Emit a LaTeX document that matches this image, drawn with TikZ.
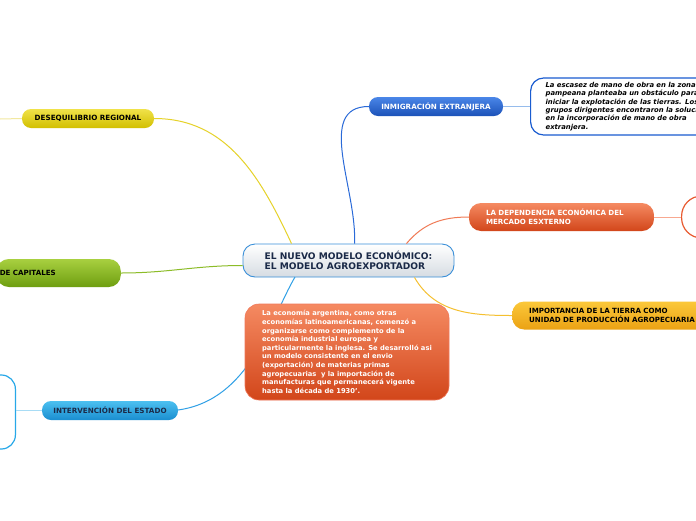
\documentclass[tikz,border=0pt]{standalone}
\usepackage{fontspec}
\setmainfont{DejaVu Sans}
\usepackage{tikz}
\usetikzlibrary{positioning,shadings}

\definecolor{mainedge}{HTML}{3A8FD8}
\definecolor{maingray}{HTML}{D6DCE2}
\definecolor{maintext}{HTML}{1B2A48}
\definecolor{inmtop}{HTML}{4A86E8}
\definecolor{inmbot}{HTML}{1C52B8}
\definecolor{deptop}{HTML}{F58A62}
\definecolor{depbot}{HTML}{D2461A}
\definecolor{imptop}{HTML}{FBC83A}
\definecolor{impbot}{HTML}{EBA214}
\definecolor{destop}{HTML}{F0E24A}
\definecolor{desbot}{HTML}{D2BF00}
\definecolor{captop}{HTML}{A8D040}
\definecolor{capbot}{HTML}{6E9E10}
\definecolor{inttop}{HTML}{4CC0F0}
\definecolor{intbot}{HTML}{1A8ED0}

\begin{document}
\begin{tikzpicture}[x=1pt, y=1pt,
  mainN/.style={draw=mainedge, line width=0.9pt, rounded corners=12pt,
                top color=white, bottom color=maingray, minimum width=211pt,
                minimum height=33pt, align=left, text=maintext,
                font=\fontsize{9.1}{10.5}\selectfont\bfseries},
  pillN/.style={rounded corners=9pt, minimum height=19pt, inner sep=0pt,
                font=\fontsize{7.2}{9}\selectfont\bfseries},
  wideN/.style={rounded corners=12pt, minimum height=28pt, inner xsep=17pt,
                align=left, font=\fontsize{7.1}{9}\selectfont\bfseries},
  noteN/.style={draw, line width=1.2pt, fill=white, rounded corners=13pt},
  link/.style={line width=1pt}
]
\useasboundingbox (0,0) rectangle (696,-520);
\clip (0,0) rectangle (696,-520);
\fill[white] (0,0) rectangle (696,-520);
% Free ends at the left border
\coordinate (deseqend) at (0,-119);
% Main topic and its text
\node[mainN] (central) at (348.5,-260.5) {EL NUEVO MODELO ECONÓMICO:\\EL MODELO AGROEXPORTADOR};
% Connector behind the text box
\draw[link, draw={rgb,255:red,48;green,160;blue,230}] (295,-277) .. controls (270,-320) and (250,-400) .. (178,-410);
\node[draw={rgb,255:red,240;green,120;blue,90}, line width=0.6pt, rounded corners=14pt,
      top color=deptop, bottom color=depbot, minimum width=204pt, minimum height=96pt,
      align=left, text=white, font=\fontsize{6.75}{8.6}\selectfont\bfseries]
  (economia) at (347,-352) {La economía argentina, como otras\\economías latinoamericanas, comenzó a\\organizarse como complemento de la\\economía industrial europea y\\particularmente la inglesa. Se desarrolló asi\\un modelo consistente en el envio\\(exportación) de materias primas\\agropecuarias \ y la importación de\\manufacturas que permanecerá vigente\\hasta la década de 1930’.};
% Branches
\node[pillN, top color=inmtop, bottom color=inmbot, text=white, minimum width=134pt]
  (inmig) at (436,-106.5) {INMIGRACIÓN EXTRANJERA};
\node[noteN, draw={rgb,255:red,26;green,92;blue,208}, anchor=west, minimum height=57pt,
      text width=240pt, inner xsep=15pt, align=left,
      font=\fontsize{6.85}{8.4}\selectfont\bfseries\itshape]
  (inmnote) at (530,-106.5) {La escasez de mano de obra en la zona\\pampeana planteaba un obstáculo para\\iniciar la explotación de las tierras. Los\\grupos dirigentes encontraron la solución\\en la incorporación de mano de obra\\extranjera.};
\node[wideN, top color=deptop, bottom color=depbot, text=white, text width=151pt]
  (depend) at (561.5,-217) {LA DEPENDENCIA ECONÓMICA DEL\\MERCADO ESXTERNO};
\node[noteN, draw={rgb,255:red,232;green,90;blue,48}, anchor=west, rounded corners=20pt,
      minimum width=80pt, minimum height=42pt] (depnote) at (681,-217) {};
\node[wideN, top color=imptop, bottom color=impbot, text=black, anchor=west,
      text width=200pt] (tierra) at (512,-315.5) {IMPORTANCIA DE LA TIERRA COMO\\UNIDAD DE PRODUCCIÓN AGROPECUARIA};
\node[pillN, top color=destop, bottom color=desbot, text=black, minimum width=132pt]
  (deseq) at (88,-118.5) {DESEQUILIBRIO REGIONAL};
\node[wideN, top color=captop, bottom color=capbot, text=black, anchor=east,
      inner xsep=3pt, text width=118pt] (capital) at (121,-273) {DE CAPITALES};
\node[pillN, top color=inttop, bottom color=intbot, text=maintext, minimum width=136pt]
  (interv) at (110,-410.5) {INTERVENCIÓN DEL ESTADO};
\node[noteN, draw={rgb,255:red,40;green,168;blue,232}, anchor=east, rounded corners=14pt,
      minimum width=70pt, minimum height=74pt] (intnote) at (16,-412) {};
% Connectors
\draw[link, draw={rgb,255:red,42;green,106;blue,216}] ([xshift=6pt]central.north) to[out=87,in=180] (inmig.west);
\draw[link, draw={rgb,255:red,150;green,188;blue,236}] (inmig.east) -- (inmnote.west);
\draw[link, draw={rgb,255:red,240;green,122;blue,85}] ([xshift=58pt]central.north) to[out=50,in=180] (depend.west);
\draw[link, draw={rgb,255:red,248;green,168;blue,144}] (depend.east) -- (depnote.west);
\draw[link, draw={rgb,255:red,245;green,192;blue,48}] ([xshift=66pt]central.south) to[out=-60,in=180] (tierra.west);
\draw[link, draw={rgb,255:red,230;green,210;blue,42}] ([xshift=-57pt]central.north) to[out=115,in=0] (deseq.east);
\draw[link, draw={rgb,255:red,242;green,232;blue,160}] (deseqend) -- (deseq.west);
\draw[link, draw={rgb,255:red,140;green,188;blue,40}] ([yshift=-5pt]central.west) to[out=180,in=0] (capital.east);
\draw[link, draw={rgb,255:red,168;green,220;blue,245}] (intnote.east |- interv.west) -- (interv.west);
\end{tikzpicture}
\end{document}
